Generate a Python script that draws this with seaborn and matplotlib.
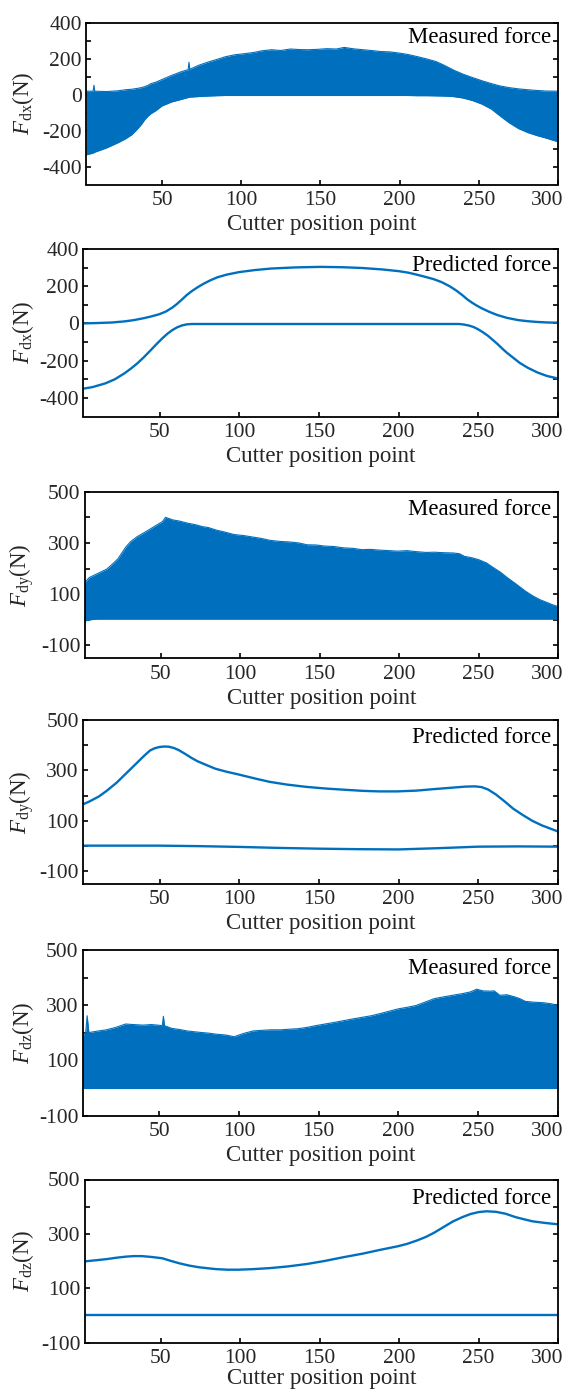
import numpy as np
import pandas as pd
import matplotlib
matplotlib.use("Agg")
import matplotlib.pyplot as plt
import matplotlib.transforms as mtransforms
from matplotlib.ticker import FixedLocator, NullLocator
import seaborn as sns

# ---------------- data ----------------
# Panel 1: measured F_dx envelope
dx_meas_pos = [2, 6.5, 7, 7.5, 15, 22, 27, 31, 34, 37, 39, 41, 43, 46, 50, 56, 62, 66.5, 67, 67.5, 73, 79, 85, 90,
               96, 102, 108, 113, 119, 125, 131, 137, 142, 148, 154, 160, 165, 171, 177, 183, 188, 194, 200, 205,
               211, 217, 223, 228, 234, 240, 246, 252, 258, 263, 269, 275, 281, 287, 292, 300]
dx_meas_upper = [20, 20, 53, 20, 18, 22, 28, 31, 35, 40, 45, 52, 62, 70, 85, 108, 128, 140, 181, 142, 164, 182, 198,
                 212, 223, 229, 236, 245, 251, 247, 255, 252, 251, 253, 257, 255, 264, 256, 251, 246, 241, 239, 232, 225,
                 213, 200, 185, 165, 138, 115, 96, 78, 62, 50, 40, 33, 28, 24, 21, 20]
dx_meas_lower = [-335, -325, -322, -320, -296, -268, -245, -222, -195, -165, -140, -120, -105, -89, -62, -40, -26, -15,
                 -14, -13, -10, -7, -5, -4, -4, -4, -4, -4, -4, -4, -4, -4, -4, -4, -4, -4, -4, -4, -4, -4, -4, -4,
                 -4, -4, -5, -5, -6, -7, -10, -18, -32, -52, -80, -115, -155, -188, -211, -228, -240, -262]

# Panel 2: predicted F_dx
dx_pred_up_pos = [1, 10, 20, 28, 34, 40, 45, 50, 54, 58, 61, 64, 67, 70, 74, 78, 82, 86, 92, 100, 110, 120, 135,
                  151, 165, 177, 190, 200, 206, 211, 216, 222, 227, 232, 236, 240, 243, 246, 249, 252, 257, 262,
                  268, 275, 281, 287, 294, 300]
dx_pred_up = [0, 2, 5, 11, 18, 28, 38, 50, 64, 85, 105, 128, 152, 172, 195, 215, 232, 247, 262, 276, 287, 295, 301,
              304, 302, 298, 290, 281, 273, 263, 252, 238, 222, 200, 178, 152, 130, 112, 96, 82, 62, 45,
              30, 18, 12, 8, 5, 4]
dx_pred_lo_pos = [1, 8, 16, 22, 28, 32, 36, 40, 44, 48, 52, 55, 58, 61, 64, 67, 70, 150, 238, 241, 244, 247,
                  250, 253, 256, 259, 262, 265, 268, 272, 276, 281, 287, 293, 300]
dx_pred_lo = [-352, -342, -322, -300, -268, -243, -215, -183, -148, -112, -78, -55, -36, -21, -11, -5, -3, -3,
              -3, -6, -11, -19, -32, -48, -66, -88, -110, -135, -158, -185, -212, -238, -263, -282, -296]

# Panel 3: measured F_dy envelope
dy_meas_pos = [2, 5, 10, 16, 20, 23, 28, 31, 35, 40, 44, 48, 51, 53, 57.5, 62, 67, 72, 76, 80, 85, 90, 96, 102,
               108, 113, 119, 125, 131, 137, 142, 148, 153, 159, 165, 171, 176.5, 182, 188, 194, 199, 205, 211, 217,
               222, 228, 234, 238, 241, 246, 250, 255, 259, 264, 268, 274, 279.5, 284, 288.5, 293, 296.5, 300]
dy_meas_upper = [145, 165, 180, 198, 220, 238, 284, 305, 324, 342, 357, 372, 383, 400, 390, 385, 377, 371, 364, 360,
                 350, 343, 333, 329, 323, 318, 310, 306, 304, 300, 293, 292, 288, 286, 281, 279, 274, 275, 272, 270,
                 268, 270, 266, 263, 264, 262, 261, 258, 248, 242, 235, 222, 205, 185, 165, 138, 112, 94, 79, 68, 59, 52]
dy_meas_lower = [-5, 0] + [3] * 60

# Panel 4: predicted F_dy
dy_pred_up_pos = [1, 6, 12, 17, 23, 29, 35, 40, 44, 47, 50, 53, 56, 59, 62, 66, 70, 74, 80, 85, 92, 99, 110, 119,
                  130, 142, 155, 165, 178, 188, 199, 211, 222, 234, 242, 248, 252, 256, 261, 266, 272, 278, 284,
                  290, 295, 300]
dy_pred_up = [163, 177, 197, 220, 251, 288, 325, 356, 379, 388, 393, 395, 394, 389, 381, 366, 350, 336, 320, 307,
              295, 285, 268, 255, 244, 235, 228, 224, 219, 217, 217, 220, 226, 232, 236, 237, 234, 225, 205, 180,
              148, 123, 100, 82, 70, 58]
dy_pred_lo_pos = [1, 50, 75, 100, 125, 150, 175, 200, 225, 250, 275, 300]
dy_pred_lo = [2, 2, 0, -3, -7, -10, -12, -13, -8, -2, -1, -2]

# Panel 5: measured F_dz envelope
dz_meas_pos = [2, 4, 4.9, 6, 11, 17, 23, 29, 34, 40, 45, 49, 52, 52.7, 53.4, 58, 63, 67.5, 72, 77, 81, 86, 92, 97,
               103, 109, 114, 120, 126, 131, 137, 143, 148, 154, 160, 165.5, 171, 177, 183, 188, 194, 200, 205, 211,
               217, 222.5, 228, 234, 240, 245, 249, 253, 257, 260, 263.5, 268, 273, 276, 279.5, 285, 291, 296, 300]
dz_meas_upper = [189, 200, 262, 201, 206, 211, 220, 232, 230, 228, 230, 228, 226, 260, 226, 216, 212, 207, 204, 201,
                 199, 195, 192, 186, 198, 207, 209, 211, 211, 213, 215, 220, 226, 232, 238, 244, 250, 256, 262, 269,
                 278, 287, 292, 299, 312, 324, 330, 336, 342, 348, 358, 352, 351, 352, 336, 338, 330, 324, 314, 311,
                 309, 305, 299]
dz_meas_lower = [0] * len(dz_meas_pos)

# Panel 6: predicted F_dz
dz_pred_up_pos = [1, 8, 16, 22, 28, 33, 38, 44, 51, 56, 62, 68, 74, 80, 85, 92, 99, 108, 119, 130, 142, 153, 165,
                  177, 188, 199, 205, 211, 217, 222, 228, 234, 240, 245, 250, 255, 261, 267, 273, 279, 284, 292, 300]
dz_pred_up = [198, 202, 207, 212, 216, 218, 218, 215, 210, 201, 191, 183, 177, 173, 170, 168, 168, 170, 174, 180,
              189, 200, 214, 227, 241, 254, 263, 275, 289, 304, 325, 346, 362, 373, 380, 383, 381, 374, 362, 353,
              346, 340, 335]
dz_pred_lo_pos = [1, 300]
dz_pred_lo = [0, 0]

x_ticks = [50, 100, 150, 200, 250, 300]
ylabels = [r"$F_{\mathrm{dx}}$(N)", r"$F_{\mathrm{dx}}$(N)", r"$F_{\mathrm{dy}}$(N)",
           r"$F_{\mathrm{dy}}$(N)", r"$F_{\mathrm{dz}}$(N)", r"$F_{\mathrm{dz}}$(N)"]
titles = ["Measured force", "Predicted force"] * 3
y_major = [[-400, -200, 0, 200, 400], [-400, -200, 0, 200, 400],
           [-100, 100, 300, 500], [-100, 100, 300, 500],
           [-100, 100, 300, 500], [-100, 100, 300, 500]]
y_minor = [[-300, -100, 100, 300], [-300, -100, 100, 300],
           [0, 200, 400], [0, 200, 400], [0, 200, 400], [0, 200, 400]]
y_lims = [(-500, 400), (-500, 400), (-150, 500), (-150, 500), (-100, 500), (-100, 500)]

# ---------------- style ----------------
sns.set_theme(style="ticks")
plt.rcParams["font.family"] = ["Liberation Serif", "DejaVu Serif"]
plt.rcParams["mathtext.fontset"] = "custom"
plt.rcParams["mathtext.rm"] = "Liberation Serif"
plt.rcParams["mathtext.it"] = "Liberation Serif:italic"
plt.rcParams["axes.linewidth"] = 1.3

BLUE = "#0070BE"
W, H = 567, 1393
fig = plt.figure(figsize=(W / 100, H / 100), dpi=100)

# pixel boxes (left, top, right, bottom)
boxes = [(86, 23, 558, 184.5), (83, 249, 558, 416.5), (84.5, 491.7, 558, 658.3),
         (83, 720, 558, 884), (82.5, 950, 558, 1115.7), (84.5, 1179.5, 558, 1342.5)]
title_dy = [4, 6, 7, 7, 8, 8]
xlabel_dy = [29.5, 29.5, 29.5, 29.5, 29.5, 25.5]

axes = []
for (l, t, r, b) in boxes:
    axes.append(fig.add_axes([l / W, 1 - b / H, (r - l) / W, (b - t) / H]))

# measured panels
for ax, pos, up, lo in [(axes[0], dx_meas_pos, dx_meas_upper, dx_meas_lower),
                        (axes[2], dy_meas_pos, dy_meas_upper, dy_meas_lower),
                        (axes[4], dz_meas_pos, dz_meas_upper, dz_meas_lower)]:
    df = pd.DataFrame({"pos": pos, "upper": up, "lower": lo})
    ax.fill_between(df["pos"], df["lower"], df["upper"], color=BLUE, lw=0)
    sns.lineplot(data=df, x="pos", y="upper", ax=ax, color=BLUE, lw=0.8, legend=False)
    sns.lineplot(data=df, x="pos", y="lower", ax=ax, color=BLUE, lw=0.8, legend=False)

# predicted panels
for ax, xu, yu, xl, yl in [(axes[1], dx_pred_up_pos, dx_pred_up, dx_pred_lo_pos, dx_pred_lo),
                           (axes[3], dy_pred_up_pos, dy_pred_up, dy_pred_lo_pos, dy_pred_lo),
                           (axes[5], dz_pred_up_pos, dz_pred_up, dz_pred_lo_pos, dz_pred_lo)]:
    sns.lineplot(x=xu, y=yu, ax=ax, color=BLUE, lw=1.7, legend=False)
    sns.lineplot(x=xl, y=yl, ax=ax, color=BLUE, lw=1.7, legend=False)

for i, ax in enumerate(axes):
    l, t, r, b = boxes[i]
    wpx, hpx = r - l, b - t
    ax.set_xlim(2, 300)
    ax.set_ylim(*y_lims[i])
    ax.set_xticks(x_ticks)
    ax.set_xticklabels([str(v) for v in x_ticks])
    ax.xaxis.set_minor_locator(NullLocator())
    ax.yaxis.set_major_locator(FixedLocator(y_major[i]))
    ax.yaxis.set_minor_locator(FixedLocator(y_minor[i]))
    ax.set_yticklabels([str(v) for v in y_major[i]])
    for s in ax.spines.values():
        s.set_visible(True)
        s.set_color("black")
        s.set_linewidth(1.3)
    ax.tick_params(axis="both", which="both", direction="in", length=3.4, width=1.2,
                   color="black", top=False, right=True, left=True, bottom=True)
    ax.tick_params(axis="y", which="both", labelsize=15.5, pad=3)
    ax.tick_params(axis="x", which="both", labelsize=15.5, pad=4.5)
    ax.set_xlabel("Cutter position point", fontsize=16.5)
    ax.xaxis.set_label_coords(0.5, -xlabel_dy[i] / hpx)
    ax.set_ylabel(ylabels[i], fontsize=16.5)
    ax.yaxis.set_label_coords((36 - l) / wpx, 0.5)
    ax.text(1 - 7 / wpx, 1 - title_dy[i] / hpx, titles[i], transform=ax.transAxes,
            ha="right", va="top", fontsize=16.5, color="black")
    ax.set_facecolor("white")
    # the last x tick label sits shifted left in the reference
    lbls = ax.get_xticklabels()
    shift = mtransforms.ScaledTranslation(-11 / 100, 0, fig.dpi_scale_trans)
    lbls[-1].set_transform(lbls[-1].get_transform() + shift)

fig.savefig("out.png", dpi=100, facecolor="white")
